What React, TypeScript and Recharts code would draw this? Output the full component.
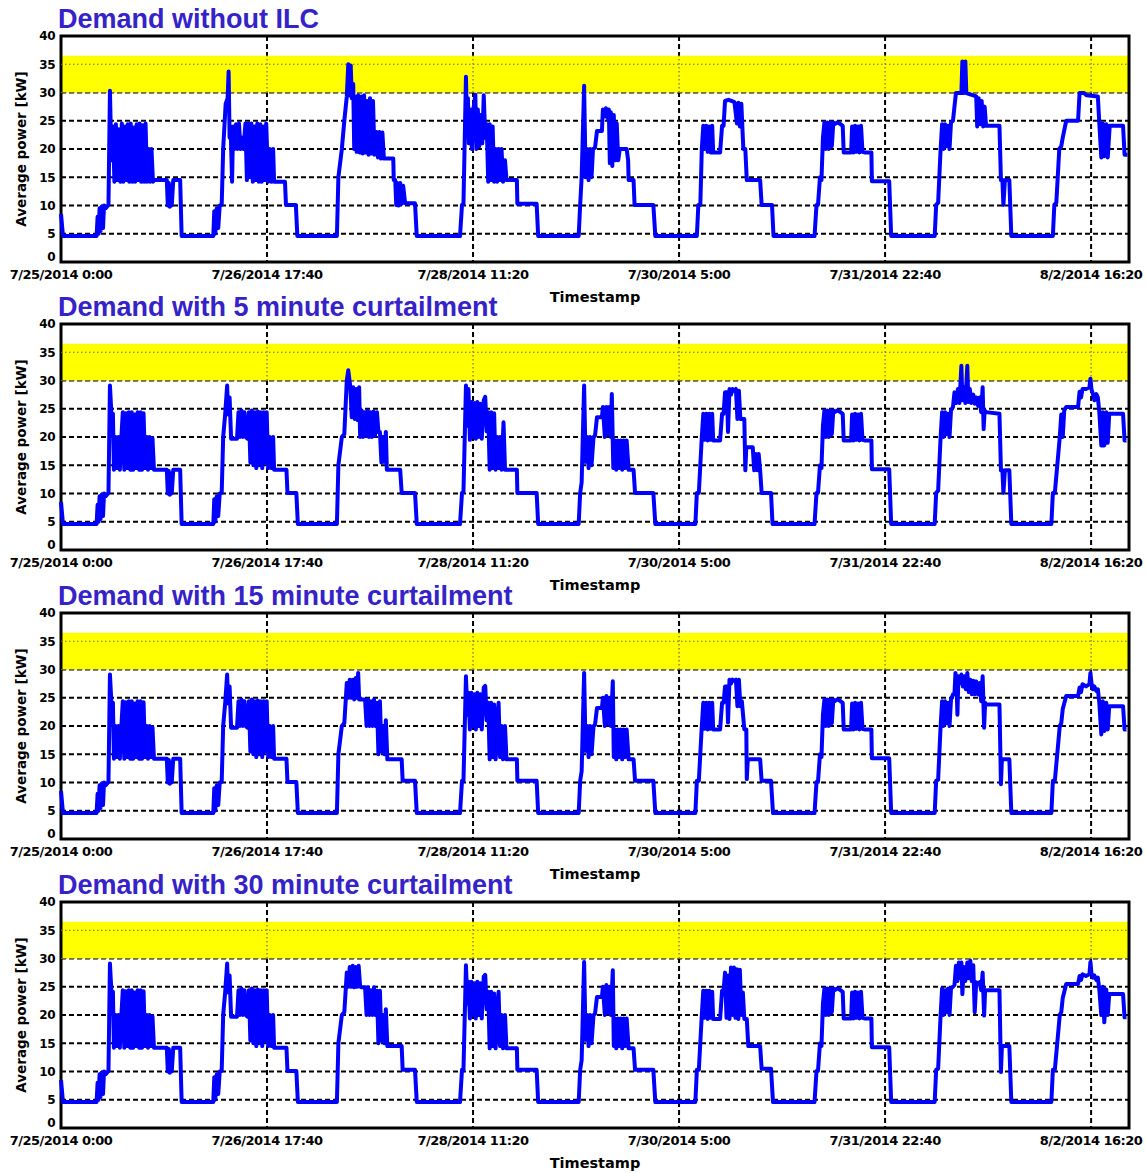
import {
  CartesianGrid,
  Label,
  Line,
  LineChart,
  ReferenceArea,
  ReferenceLine,
  XAxis,
  YAxis,
} from "recharts";

type Pt = [number, number];

// x = hours since 7/25/2014 0:00, y = average power in kW
const tickHours = [0, 125 / 3, 250 / 3, 125, 500 / 3, 625 / 3];
const tickLabels = [
  "7/25/2014 0:00",
  "7/26/2014 17:40",
  "7/28/2014 11:20",
  "7/30/2014 5:00",
  "7/31/2014 22:40",
  "8/2/2014 16:20",
];
const kwTicks = [0, 5, 10, 15, 20, 25, 30, 35, 40];
const peakBand = [30, 36.5];

const titles = [
  "Demand without ILC",
  "Demand with 5 minute curtailment",
  "Demand with 15 minute curtailment",
  "Demand with 30 minute curtailment",
];

// ---- baseline run (no ILC) ----
const noIlcDay0: Pt[] = [[0,8.5],[0.4,4.6],[7.2,4.6],[7.4,8],[7.6,5],[7.8,9.5],[8.0,5.5],[8.2,9.8],[8.5,6],[8.7,10],[9.0,9.5],[9.6,10.1],[9.9,30.3],[10.2,18],[10.5,24],[10.8,14.2],[11.1,24.4],[11.4,14.5],[11.7,23.5],[12.0,14.2],[12.3,24.5],[12.6,14.2],[12.9,24],[13.2,14.5],[13.5,24.4],[13.8,14.2],[14.1,24.5],[14.4,14.2],[14.7,23.8],[15.0,14.2],[15.3,24.4],[15.6,14.5],[15.9,24.5],[16.2,14.2],[16.5,24.2],[16.8,14.2],[17.1,24.5],[17.4,14.2],[17.7,20],[18.0,14.2],[18.3,20],[18.6,14.2],[18.9,14.5],[21.4,14.5],[21.6,10],[21.8,14],[22.0,9.8],[22.2,13.5],[22.4,10],[22.7,14.5],[24.1,14.5],[24.4,4.6]];
const noIlcDay1: Pt[] = [[30.8,4.6],[31.0,9],[31.2,5],[31.5,9.5],[31.8,6],[32.1,10],[32.5,10.1],[32.8,20],[33.3,28],[33.7,29],[33.9,33.7],[34.1,22],[34.3,24],[34.6,14.2],[34.8,24],[35.1,20],[35.4,24.4],[35.7,20],[36.0,24.5],[36.3,20],[36.6,22],[36.9,20],[37.3,24.5],[37.6,14.5],[37.9,24.5],[38.2,15],[38.5,24.5],[38.8,14.2],[39.1,24],[39.4,14.5],[39.7,24.5],[40.0,14.2],[40.3,24.4],[40.6,14.2],[40.9,24],[41.2,14.5],[41.5,24.5],[41.9,14.2],[42.2,20],[42.6,14.2],[42.9,20],[43.1,14.2],[45.3,14.2],[45.5,10.1],[47.5,10.1],[47.8,4.6]];
const noIlcDay2: Pt[] = [[55.8,4.6],[56.1,15],[56.8,20],[57.3,25],[57.8,29.3],[58.1,35],[58.3,29.5],[58.6,34.8],[58.8,29],[59.1,31.5],[59.3,20],[59.5,29.3],[59.8,19.5],[60.1,29.5],[60.4,19.4],[60.7,29.3],[61.0,19.2],[61.3,29.5],[61.6,19.4],[61.9,28.5],[62.2,19],[62.5,29],[62.8,19.2],[63.1,28.5],[63.4,19],[63.8,23],[64.1,18.5],[64.4,23],[64.7,18.3],[65.0,22.9],[65.3,18.3],[67.2,18.3],[67.3,14.5],[67.6,14.5],[67.8,10.1],[68.0,14],[68.3,10],[68.6,14],[68.9,10.3],[69.2,13.5],[69.6,10.4],[71.6,10.4],[71.95,4.6]];
const noIlcDay3: Pt[] = [[80.7,4.6],[81.1,10.1],[81.4,10.3],[81.9,32.8],[82.1,25],[82.3,29],[82.5,21],[82.8,27],[83.1,20],[83.4,27],[83.8,29.6],[84.0,20],[84.3,27],[84.6,20.5],[84.9,26],[85.2,21],[85.5,29.5],[85.8,22],[86.1,24.4],[86.4,14.2],[86.7,24.4],[87.0,14.5],[87.3,24],[87.6,14.2],[87.9,20],[88.2,14.2],[88.5,20],[88.8,14.5],[89.1,20],[89.4,14.2],[89.8,18],[90.1,14.5],[92.2,14.5],[92.3,10.3],[96.2,10.3],[96.5,4.6]];
const noIlcDay4: Pt[] = [[104.7,4.6],[105.0,10.1],[105.3,15],[105.8,31.2],[106.1,15],[106.4,20],[106.7,14.5],[107.0,20],[107.3,15],[107.6,20],[108.0,20.2],[108.4,23.2],[109.4,23.2],[109.6,27],[109.9,25.8],[110.2,27.2],[110.5,25.5],[110.8,27],[111.0,17.5],[111.2,26.5],[111.5,17],[111.8,26],[112.1,18],[112.4,24.5],[112.7,18],[113.0,20],[114.4,20],[114.7,18],[114.8,14.5],[115.8,14.5],[116.0,10.1],[119.8,10.1],[120.2,4.6]];
const noIlcDay5: Pt[] = [[128.6,4.6],[128.9,10.1],[129.3,10.1],[129.6,20],[129.9,24.1],[130.2,20],[130.5,24.1],[130.8,19.5],[131.1,24],[131.4,19.4],[131.7,24.1],[131.9,19.4],[133.3,19.4],[133.7,24.1],[134.0,24.1],[134.3,28.5],[135.0,28.7],[135.6,28.5],[136.2,28.3],[136.7,24.5],[137.0,28.2],[137.3,24],[137.6,28],[138.0,20],[138.4,20],[138.7,14.5],[141.4,14.5],[141.7,10.1],[143.8,10.1],[144.1,4.6]];
const noIlcDay7: Pt[] = [[176.7,4.6],[177.0,10.1],[177.4,10.5],[177.9,20],[178.2,24.4],[178.5,20],[178.8,24.4],[179.1,20.5],[179.4,24.1],[179.7,20],[180.0,24.7],[180.4,25],[180.7,27.5],[181.0,29.9],[182.1,29.9],[182.3,35.5],[182.5,29.9],[182.9,35.5],[183.1,29.9],[184.5,29.5],[185.1,29.3],[185.3,24],[185.6,29],[185.9,24.4],[186.2,28.5],[186.5,24],[186.8,27.5],[187.1,24.1],[189.8,24.1],[190.1,14.5],[190.4,14.5],[190.6,10.1],[190.9,14.5],[191.8,14.5],[192.2,4.6]];
const noIlcDay8: Pt[] = [[200.6,4.6],[200.9,10.1],[201.3,10.5],[201.9,20],[202.3,20.5],[202.6,22],[203.3,25],[205.7,25],[206.0,29.9],[206.9,29.9],[207.4,29.5],[209.7,29.3],[210.0,24.5],[210.4,18.5],[210.7,24.5],[211.0,18.7],[211.4,24.4],[211.7,18.5],[212.1,24.1],[214.8,24.1],[215.1,19],[215.7,19]];

// ---- days that look the same in several runs ----
const quietDay6: Pt[] = [[152.4,4.6],[152.8,10.1],[153.1,10.1],[153.5,15],[153.8,14.5],[154.1,22],[154.4,24.7],[154.7,20],[155.0,24.7],[155.3,20],[155.6,24.7],[155.9,20.5],[156.2,24.7],[156.5,24.4],[157.0,24.7],[157.5,24.5],[158.1,24.1],[158.3,19.4],[159.8,19.4],[160.0,24],[160.3,19.4],[160.6,24.1],[160.9,19.5],[161.2,24],[161.5,19.4],[161.8,24.1],[162.1,19.5],[162.5,19.4],[163.9,19.4],[164.0,14.3],[167.5,14.3],[167.9,4.6]];
const curtDay0: Pt[] = [[0,8.5],[0.4,4.6],[7.2,4.6],[7.4,8],[7.6,5],[7.8,9.5],[8.0,5.5],[8.2,9.8],[8.5,6],[8.7,10],[9.0,9.5],[9.6,10.1],[9.9,29.1],[10.2,24],[10.5,24.1],[10.7,14.2],[11.0,20],[11.3,14.5],[11.6,20],[11.9,14.2],[12.2,19.8],[12.5,24.4],[12.8,14.2],[13.1,24.2],[13.4,14.5],[13.7,24.4],[14.0,14.2],[14.3,24.4],[14.6,14.2],[14.9,24],[15.2,14.5],[15.5,24.4],[15.8,14.2],[16.1,24.4],[16.4,14.2],[16.7,24.2],[17.0,14.5],[17.3,20],[17.6,14.2],[17.9,20],[18.2,14.5],[18.5,19.8],[18.8,14.2],[19.0,14.2],[21.4,14.2],[21.6,10],[21.8,14],[22.0,9.8],[22.2,13.5],[22.4,10],[22.7,14.2],[24.1,14.2],[24.4,4.6]];
const curtDay1: Pt[] = [[30.8,4.6],[31.0,9],[31.2,5],[31.5,9.5],[31.8,6],[32.1,10],[32.5,10.1],[32.8,20],[33.2,24],[33.6,29.1],[33.8,24],[34.1,27],[34.4,19.7],[35.6,19.7],[35.9,24.4],[36.2,20],[36.5,24.7],[36.8,20],[37.1,24.4],[37.4,20],[37.7,19.7],[38.0,24.4],[38.3,15.5],[38.6,24.7],[38.9,15],[39.2,24.4],[39.5,14.5],[39.8,24.5],[40.1,15],[40.4,24.4],[40.7,14.5],[41.0,24.4],[41.3,15.5],[41.6,24.4],[41.9,14.5],[42.2,20],[42.6,14.5],[42.9,20],[43.1,14.2],[45.6,14.2],[45.8,10.1],[47.6,10.1],[47.9,4.6]];
const longCurtDay3: Pt[] = [[80.7,4.6],[81.1,10.3],[81.4,10.3],[81.9,28.8],[82.2,22],[82.4,25.9],[82.7,19.4],[83.0,25.9],[83.3,20],[83.6,25.6],[83.9,19.4],[84.2,25.9],[84.5,20],[84.8,25.6],[85.1,19.4],[85.5,26.8],[85.8,27.1],[86.1,21],[86.4,24.1],[86.7,14.1],[87.0,24.1],[87.3,14.5],[87.6,23.8],[87.9,14.1],[88.2,20],[88.5,24.1],[88.8,14.5],[89.1,20],[89.4,14.1],[89.8,20],[90.1,14.1],[92.2,14.1],[92.3,10.3],[96.2,10.3],[96.5,4.6]];
const longCurtDay4: Pt[] = [[104.7,4.6],[105.0,10.3],[105.3,12],[105.8,29.4],[106.1,15.6],[106.4,20],[106.7,14.5],[107.0,20],[107.3,15],[107.7,20],[108.0,20.2],[108.4,23.2],[109.4,23.2],[109.6,25],[110.0,20],[110.3,25.3],[110.6,20.5],[110.9,25],[111.2,20],[111.6,27.9],[111.8,14.5],[112.0,19.4],[112.3,14.1],[112.6,19.4],[112.9,14.5],[113.2,19.4],[113.5,14.1],[113.8,19.4],[114.1,14.5],[114.4,19.4],[114.8,14.1],[115.8,14.1],[116.1,10.3],[119.8,10.3],[120.2,4.6]];

// ---- 5 minute curtailment ----
const curt5Day2: Pt[] = [[55.8,4.6],[56.1,15],[56.8,20],[57.3,20.5],[57.8,30],[58.1,31.8],[58.5,29],[58.8,23.5],[59.1,28.8],[59.4,23.2],[59.7,28.5],[60.0,23],[60.3,28.8],[60.5,20],[60.8,24.7],[61.1,20],[61.4,24.4],[61.7,20.2],[62.0,24.7],[62.3,20],[62.6,24.4],[62.9,20],[63.2,24.5],[63.5,20.2],[63.9,24.4],[64.2,20.9],[64.5,20.9],[64.8,15.5],[65.1,20],[65.4,15.6],[65.7,20.9],[65.9,14.2],[68.6,14.2],[68.9,10.1],[71.6,10.1],[71.95,4.6]];
const curt5Day3: Pt[] = [[80.7,4.6],[81.1,10.1],[81.4,10.3],[81.9,29.1],[82.2,22],[82.4,28.5],[82.7,19.5],[83.0,26.2],[83.3,20],[83.6,26],[83.9,19.7],[84.2,26.2],[84.5,20],[84.8,25.9],[85.1,19.7],[85.5,26.5],[85.8,27.1],[86.1,21],[86.4,24.4],[86.7,14.2],[87.0,24.4],[87.3,14.5],[87.6,24.2],[87.9,14.2],[88.2,20],[88.5,14.5],[88.8,20],[89.1,14.2],[89.5,22.6],[89.8,14.2],[92.2,14.2],[92.3,10.1],[96.2,10.1],[96.5,4.6]];
const curt5Day4: Pt[] = [[104.7,4.6],[105.0,10.1],[105.3,12],[105.8,29.1],[106.1,15.6],[106.4,20],[106.7,14.5],[107.0,20],[107.3,15],[107.7,20],[108.0,20.2],[108.4,23.5],[109.4,23.5],[109.6,25.3],[110.0,20],[110.3,25.3],[110.6,20.5],[110.9,25.3],[111.2,20],[111.4,27.6],[111.7,14.5],[112.0,19.4],[112.3,14.2],[112.6,19.4],[112.9,14.5],[113.2,19.4],[113.5,14.2],[113.8,19.4],[114.1,14.5],[114.4,19.4],[114.8,14.2],[115.8,14.2],[116.1,10.1],[119.8,10.1],[120.2,4.6]];
const curt5Day5: Pt[] = [[128.3,4.6],[128.6,10.1],[129.0,10.1],[129.6,20],[129.9,24.1],[130.2,19.5],[130.5,24.1],[130.8,19.4],[131.1,24.1],[131.4,19.5],[131.7,24.1],[131.9,19.4],[133.3,19.4],[133.7,24.1],[134.0,24.1],[134.3,27.9],[134.7,27.9],[134.9,20.9],[135.2,28.5],[135.5,27.5],[135.8,28.5],[136.2,28.2],[136.5,28.5],[136.8,23.2],[137.1,28.2],[137.4,23.2],[138.2,23.2],[138.4,14.1],[138.6,18.2],[139.9,18.2],[140.2,14.1],[140.5,17],[140.8,14.1],[141.1,17],[141.4,14.1],[141.7,10.1],[143.6,10.1],[143.9,4.6]];
const curt5Day7: Pt[] = [[176.7,4.6],[177.0,10.1],[177.4,10.5],[177.9,20],[178.2,24.4],[178.5,20],[178.8,24.4],[179.1,20.5],[179.4,24.1],[179.7,20],[180.0,24.7],[180.4,25.3],[180.7,27.9],[181.0,26],[181.4,28.5],[181.7,26],[182.1,32.6],[182.3,26.5],[182.6,28.8],[182.9,26],[183.3,32.6],[183.5,26.2],[183.8,28.5],[184.1,26],[184.5,27.5],[184.8,25.9],[185.1,27],[185.5,25.5],[185.8,27],[186.1,24.4],[186.4,28.8],[186.6,21.4],[186.8,24.7],[187.1,24.4],[189.8,24.1],[190.1,14.1],[190.4,14.1],[190.6,10.1],[190.9,14.1],[191.8,14.1],[192.2,4.6]];
const curt5Day8: Pt[] = [[200.3,4.6],[200.6,10.1],[201.0,10.1],[202.0,20],[202.3,24],[202.6,20],[202.9,24.7],[203.3,25.3],[205.7,25.3],[206.0,28],[206.3,27],[206.6,28.5],[207.3,28.5],[208.0,28.8],[208.2,30.3],[208.4,28.5],[208.7,27.6],[209.0,26.5],[209.4,27.6],[209.7,27],[210.0,24.4],[210.4,18.5],[210.7,24.4],[211.0,18.5],[211.4,24.4],[211.7,19],[212.0,24.1],[214.8,24.1],[215.1,19.4],[215.5,19.4]];

// ---- 15 minute curtailment ----
const curt15Day2: Pt[] = [[55.8,4.6],[56.1,15],[56.8,20],[57.3,20.5],[57.8,27.6],[58.1,25],[58.4,28.2],[58.7,25],[59.0,28.2],[59.3,24.7],[59.6,28.5],[59.9,25],[60.1,29.4],[60.3,24.7],[61.5,24.7],[61.8,20],[62.1,24.7],[62.4,20],[62.7,24.4],[63.0,20],[63.3,24.7],[63.6,20],[63.9,24.1],[64.2,15],[64.5,24.4],[64.8,15.5],[65.1,20],[65.4,15],[65.7,21],[66.0,14.1],[68.9,14.1],[69.1,10.3],[71.6,10.3],[71.95,4.6]];
const curt15Day5: Pt[] = [[128.3,4.6],[128.6,10.3],[129.0,10.3],[129.6,20],[129.9,24.1],[130.2,19.5],[130.5,24.1],[130.8,19.4],[131.1,24.1],[131.4,19.5],[131.7,24.1],[131.9,19.4],[133.3,19.4],[133.7,24.1],[134.0,24.1],[134.3,27],[134.7,27],[134.9,20.6],[135.2,28.2],[135.5,27.5],[135.8,28.2],[136.2,28],[136.5,28.2],[136.8,23.5],[137.1,28.2],[137.4,23.5],[137.7,24.4],[138.2,19.4],[138.6,19.4],[138.7,10.6],[138.9,14.1],[141.4,14.1],[141.7,10.3],[143.6,10.3],[144.0,4.6]];
const curt15Day7: Pt[] = [[176.7,4.6],[177.0,10.3],[177.4,10.5],[177.9,20],[178.2,24.4],[178.5,20],[178.8,24.4],[179.1,20.5],[179.4,24.1],[179.7,20],[180.0,24.7],[180.4,25.6],[180.7,25.6],[180.9,29.4],[181.1,27.6],[181.3,22],[181.5,28.8],[181.8,27.6],[182.1,29.1],[182.4,27],[182.7,28.8],[183.0,26.5],[183.3,29.4],[183.6,26],[183.9,28.2],[184.2,25.6],[184.5,28],[184.8,25.6],[185.1,27.9],[185.5,25.6],[185.8,27.6],[186.1,24.4],[186.4,28.8],[186.7,19.7],[186.9,24.1],[187.1,23.8],[189.8,23.8],[190.1,9.7],[190.3,14.1],[191.8,14.1],[192.2,4.6]];
const curt15Day8: Pt[] = [[200.3,4.6],[200.6,10.3],[201.0,10.3],[202.0,20],[202.3,20.5],[202.6,23],[203.3,25.3],[205.7,25.3],[206.0,26.8],[206.3,26],[206.6,27.4],[207.3,27],[208.0,27.4],[208.2,29.4],[208.4,27.6],[208.7,26.5],[209.0,27],[209.4,26.2],[209.7,26.5],[210.0,24.1],[210.4,18.5],[210.7,24.4],[211.0,19.1],[211.4,24.1],[211.7,19.4],[212.0,23.5],[214.8,23.5],[215.1,19.4],[215.5,19.4]];

// ---- 30 minute curtailment ----
const curt30Day2: Pt[] = [[55.8,4.6],[56.1,15],[56.8,20],[57.3,20.5],[57.8,27.5],[58.1,25],[58.4,28.5],[58.7,25],[59.0,28.7],[59.3,24.9],[59.6,28.5],[59.9,25],[60.2,28.7],[60.5,25],[60.8,24.9],[61.5,24.9],[61.8,20],[62.1,24.9],[62.4,20],[62.7,24.4],[63.0,20],[63.3,24.9],[63.6,20],[63.9,24.3],[64.2,15],[64.5,24.3],[64.8,15.5],[65.1,20],[65.4,15],[65.7,21],[66.0,14.5],[68.9,14.5],[69.1,10.3],[71.6,10.3],[71.95,4.6]];
const curt30Day5: Pt[] = [[128.3,4.6],[128.6,10.3],[129.0,10.3],[129.6,20],[129.9,24.3],[130.2,19.5],[130.5,24.3],[130.8,19.3],[131.1,24.3],[131.4,19.5],[131.7,24.1],[131.9,19.3],[133.3,19.3],[133.7,24.3],[134.0,24.3],[134.3,27.5],[134.6,19.5],[134.9,27],[135.2,19.3],[135.5,28.4],[135.8,20],[136.1,28.4],[136.4,19.5],[136.7,28.1],[137.0,19.3],[137.3,28],[137.6,20],[137.9,24],[138.2,19.3],[138.7,19.3],[139.0,14.5],[141.4,14.5],[141.7,10.5],[143.6,10.5],[144.0,4.6]];
const curt30Day7: Pt[] = [[176.7,4.6],[177.0,10.3],[177.4,10.5],[177.9,20],[178.2,24.7],[178.5,20],[178.8,24.4],[179.1,20.5],[179.4,24.7],[179.7,20],[180.0,24.7],[180.4,25],[180.7,25.3],[181.0,28.7],[181.3,26],[181.6,29.3],[181.9,26.5],[182.1,29.3],[182.3,23.7],[182.6,28.5],[182.9,26],[183.3,29.3],[183.6,26.5],[183.9,29.6],[184.2,26],[184.5,28.8],[184.8,20.5],[185.1,25.8],[185.5,25.5],[185.8,25.8],[186.1,24.4],[186.4,27.5],[186.7,19.9],[186.9,24.4],[189.8,24.4],[190.1,9.9],[190.3,14.5],[191.8,14.5],[192.2,4.6]];
const curt30Day8: Pt[] = [[200.3,4.6],[200.6,10.3],[201.0,10.3],[202.0,20],[202.3,20.5],[202.6,23],[203.3,25.5],[205.7,25.5],[206.0,26.9],[206.3,26.2],[206.6,27.2],[207.3,26.9],[208.0,27.2],[208.2,29.4],[208.4,27.4],[208.7,26.6],[209.0,27],[209.4,26.2],[209.7,26.6],[210.0,24.5],[210.4,20],[210.7,25],[211.0,18.7],[211.4,24.5],[211.7,20],[212.0,23.7],[214.8,23.7],[215.1,19.6],[215.5,19.6]];

const runs: Pt[][] = [
  [...noIlcDay0, ...noIlcDay1, ...noIlcDay2, ...noIlcDay3, ...noIlcDay4, ...noIlcDay5, ...quietDay6, ...noIlcDay7, ...noIlcDay8],
  [...curtDay0, ...curtDay1, ...curt5Day2, ...curt5Day3, ...curt5Day4, ...curt5Day5, ...quietDay6, ...curt5Day7, ...curt5Day8],
  [...curtDay0, ...curtDay1, ...curt15Day2, ...longCurtDay3, ...longCurtDay4, ...curt15Day5, ...quietDay6, ...curt15Day7, ...curt15Day8],
  [...curtDay0, ...curtDay1, ...curt30Day2, ...longCurtDay3, ...longCurtDay4, ...curt30Day5, ...quietDay6, ...curt30Day7, ...curt30Day8],
];

const W = 1146;
const H = 306;
const panelTops = [0, 288, 577, 866];
const TITLE_BLUE = "#3522c8";
const LINE_BLUE = "#0000ff";
const FONT = "DejaVu Sans";

function xLabel(v: number) {
  let best = 0;
  tickHours.forEach((t, i) => {
    if (Math.abs(t - v) < Math.abs(tickHours[best] - v)) best = i;
  });
  return tickLabels[best];
}

// y tick text; the zero label sits a little higher so it clears the date below it
function KwTick({ x, y, payload }: { x?: number; y?: number; payload?: { value: number } }) {
  const v = payload?.value ?? 0;
  return (
    <text
      x={x}
      y={(y ?? 0) + (v === 0 ? -5 : 0)}
      dy="0.36em"
      textAnchor="end"
      fontFamily={FONT}
      fontWeight={700}
      fontSize={12}
      letterSpacing={-0.5}
      fill="#000"
    >
      {v}
    </text>
  );
}

function DemandPanel({ title, points, top }: { title: string; points: Pt[]; top: number }) {
  const rows = points.map(([h, kw]) => ({ h, kw }));
  return (
    <div style={{ position: "absolute", left: 0, top, width: W, height: H }}>
      <LineChart
        width={W}
        height={H}
        data={rows}
        margin={{ top: 36, right: 17, bottom: 0, left: 0 }}
      >
        <CartesianGrid stroke="#000" strokeWidth={2} strokeDasharray="5 3" />
        <ReferenceArea y1={peakBand[0]} y2={peakBand[1]} fill="#ffff00" fillOpacity={1} stroke="none" />
        <ReferenceLine y={30} stroke="#6f6f3a" strokeWidth={1.2} strokeDasharray="1.5 2.5" />
        <ReferenceLine y={35} stroke="#6f6f3a" strokeWidth={1.2} strokeDasharray="1.5 2.5" />
        {tickHours.slice(1).map((t) => (
          <ReferenceLine
            key={t}
            segment={[
              { x: t, y: peakBand[0] },
              { x: t, y: peakBand[1] },
            ]}
            stroke="#6f6f3a"
            strokeWidth={1.2}
            strokeDasharray="1.5 2.5"
          />
        ))}
        <XAxis
          dataKey="h"
          type="number"
          domain={[0, 216]}
          ticks={tickHours}
          interval={0}
          tickFormatter={xLabel}
          tickLine={false}
          axisLine={false}
          height={44}
          tick={{ fontFamily: FONT, fontWeight: 700, fill: "#000", fontSize: 13, letterSpacing: -0.5 }}
        >
          <Label
            value="Timestamp"
            position="insideBottom"
            offset={4}
            fontFamily={FONT}
            fontWeight={700}
            fontSize={14.5}
            fill="#000"
          />
        </XAxis>
        <YAxis
          type="number"
          domain={[0, 40]}
          ticks={kwTicks}
          interval={0}
          tickLine={false}
          axisLine={false}
          tickSize={4}
          width={61}
          tick={<KwTick />}
        >
          <Label
            value="Average power [kW]"
            angle={-90}
            position="center"
            dx={-9}
            fontFamily={FONT}
            fontWeight={700}
            fontSize={13.5}
            fill="#000"
          />
        </YAxis>
        <Line
          type="linear"
          dataKey="kw"
          stroke={LINE_BLUE}
          strokeWidth={4}
          strokeLinejoin="round"
          dot={false}
          isAnimationActive={false}
        />
        <ReferenceArea
          x1={0}
          x2={216}
          y1={0}
          y2={40}
          fill="none"
          stroke="#000"
          strokeWidth={3}
          ifOverflow="visible"
        />
      </LineChart>
      <svg
        width={W}
        height={36}
        style={{ position: "absolute", left: 0, top: 0, pointerEvents: "none" }}
      >
        <text
          x={58}
          y={28}
          fill={TITLE_BLUE}
          fontFamily="Liberation Sans, Arial, sans-serif"
          fontWeight={700}
          fontSize={27}
        >
          {title}
        </text>
      </svg>
    </div>
  );
}

export default function App() {
  return (
    <div style={{ position: "absolute", left: 0, top: 0, width: W, height: 1173, background: "#fff" }}>
      {runs.map((points, i) => (
        <DemandPanel key={titles[i]} title={titles[i]} points={points} top={panelTops[i]} />
      ))}
    </div>
  );
}
